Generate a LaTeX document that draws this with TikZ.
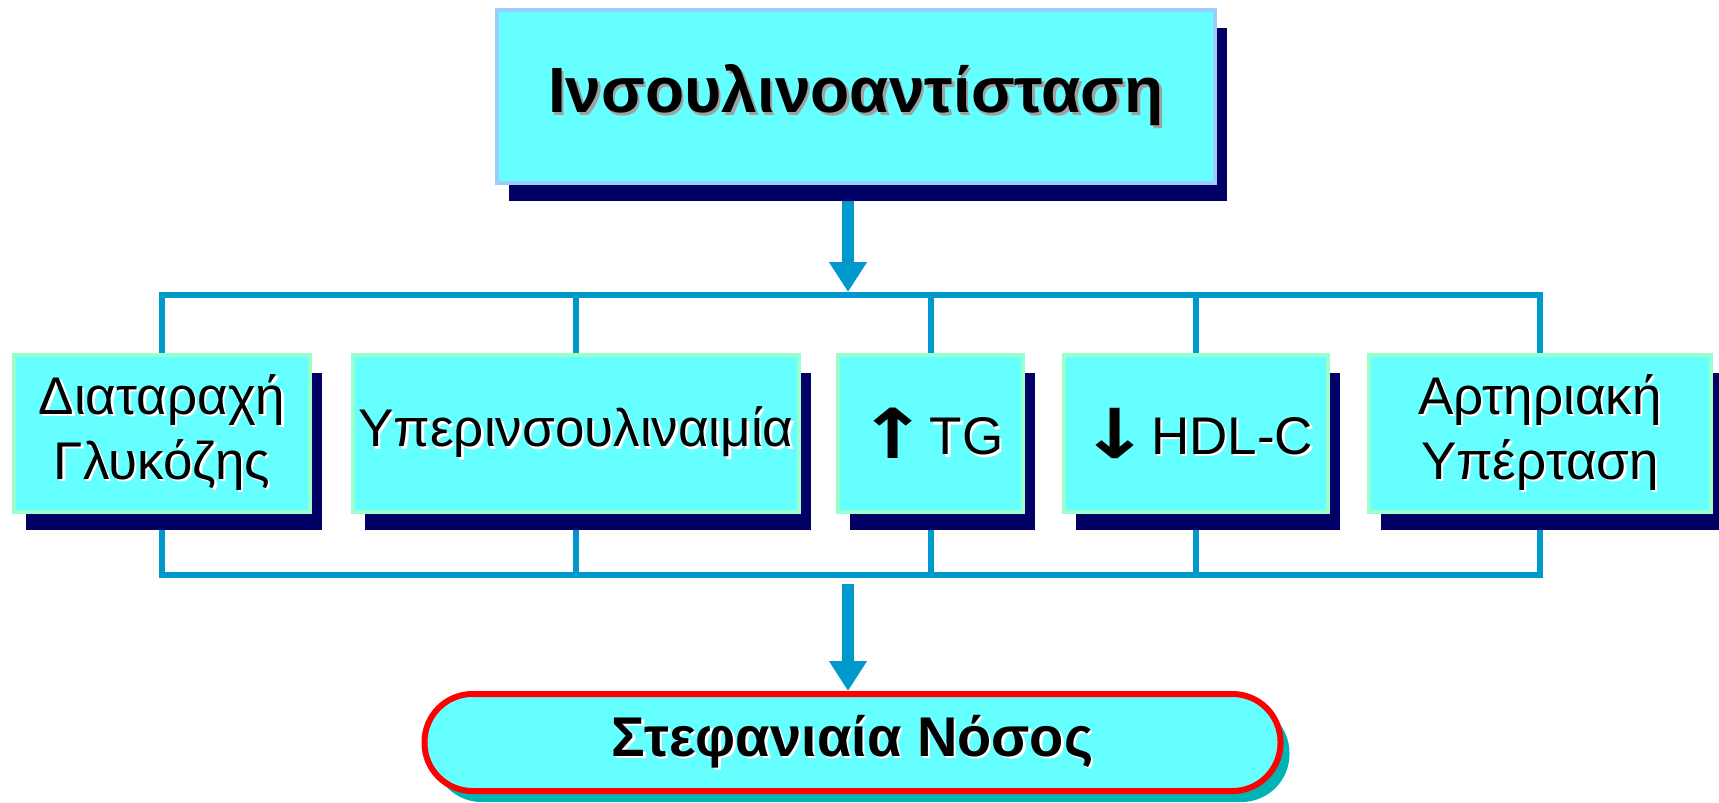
\documentclass[tikz,border=0pt]{standalone}
\usepackage{fontspec}
\setmainfont{Liberation Sans}
\newfontfamily\arrowfont{DejaVu Sans}
\usetikzlibrary{arrows.meta,shadows}
\definecolor{boxfill}{HTML}{66FFFF}
\definecolor{navyshade}{HTML}{000066}
\definecolor{linkblue}{HTML}{0099CC}
\definecolor{topline}{HTML}{99CCFF}
\definecolor{itemline}{HTML}{99FFCC}
\definecolor{tealshade}{HTML}{00B4B4}
\definecolor{textshade}{HTML}{A0A0A0}
\pgfdeclarelayer{bg}
\pgfsetlayers{bg,main}
% text with a small offset copy behind it
\newcommand\glow[2]{\leavevmode\rlap{\kern1.2pt\raisebox{-1.2pt}{\textcolor{#1}{#2}}}#2}
% wide bold arrow glyph
\newcommand\bigarrow[1]{\raisebox{-2pt}{\scalebox{1.6}[1.3]{\arrowfont\bfseries #1}}}
\tikzset{
  headbox/.style={draw=topline, line width=2pt, fill=boxfill, inner sep=0pt,
    minimum width=359pt, minimum height=86.5pt,
    drop shadow={shadow xshift=6pt, shadow yshift=-9pt, fill=navyshade, opacity=1},
    font=\bfseries\fontsize{32pt}{38pt}\selectfont},
  itembox/.style={draw=itemline, line width=2pt, fill=boxfill, inner sep=0pt,
    minimum height=78.5pt, align=center,
    drop shadow={shadow xshift=6pt, shadow yshift=-9pt, fill=navyshade, opacity=1},
    font=\fontsize{26.5pt}{32.5pt}\selectfont},
  outcome/.style={draw=red, line width=3pt, fill=boxfill, inner sep=0pt,
    rounded corners=24pt, minimum width=428pt, minimum height=48.5pt,
    drop shadow={shadow xshift=4.5pt, shadow yshift=-5.5pt, fill=tealshade, opacity=1},
    font=\bfseries\fontsize{28pt}{34pt}\selectfont},
  link/.style={draw=linkblue, line width=3pt, line join=miter},
  flow/.style={draw=linkblue, line width=6pt, -{Triangle[width=18pt,length=15pt]}},
}
\begin{document}
\begin{tikzpicture}[x=0.5pt,y=-0.5pt]
\useasboundingbox (0,0) rectangle (1719,803);

% main cause
\node[headbox] (ins) at (856,96.5) {\glow{textshade}{Ινσουλινοαντίσταση}};

% the five components
\node[itembox, minimum width=148pt] (glu) at (162,433.5)
  {\glow{white}{Διαταραχή}\\\glow{white}{Γλυκόζης}};
\node[itembox, minimum width=223pt] (hyp) at (576,433.5)
  {\glow{white}{Υπερινσουλιναιμία}};
\node[itembox, minimum width=92.5pt] (tg) at (930.5,433.5)
  {\bigarrow{↑}\hspace{0.5pt}\glow{white}{TG}};
\node[itembox, minimum width=132pt] (hdl) at (1196,433.5)
  {\bigarrow{↓}\hspace{0.5pt}\glow{white}{HDL-C}};
\node[itembox, minimum width=171pt] (art) at (1540,433.5)
  {\glow{white}{Αρτηριακή}\\\glow{white}{Υπέρταση}};

% outcome
\node[outcome] (cad) at (852.5,742.5) {\glow{white}{Στεφανιαία Νόσος}};

% connectors
\coordinate (tbar) at (852,295);
\coordinate (bbar) at (852,575);
\coordinate (split) at (848,292);
\coordinate (merge) at (848,584);
\begin{pgfonlayer}{bg}
  \draw[flow] (ins.south -| split) -- (split);
  \draw[link] (glu.north) |- (tbar) -| (art.north);
  \draw[link] (hyp.north) -- (hyp.north |- tbar);
  \draw[link] (tg.north) -- (tg.north |- tbar);
  \draw[link] (hdl.north) -- (hdl.north |- tbar);
  \draw[link] (glu.south) |- (bbar) -| (art.south);
  \draw[link] (hyp.south) -- (hyp.south |- bbar);
  \draw[link] (tg.south) -- (tg.south |- bbar);
  \draw[link] (hdl.south) -- (hdl.south |- bbar);
  \draw[flow] (merge) -- (merge |- cad.north);
\end{pgfonlayer}
\end{tikzpicture}
\end{document}
